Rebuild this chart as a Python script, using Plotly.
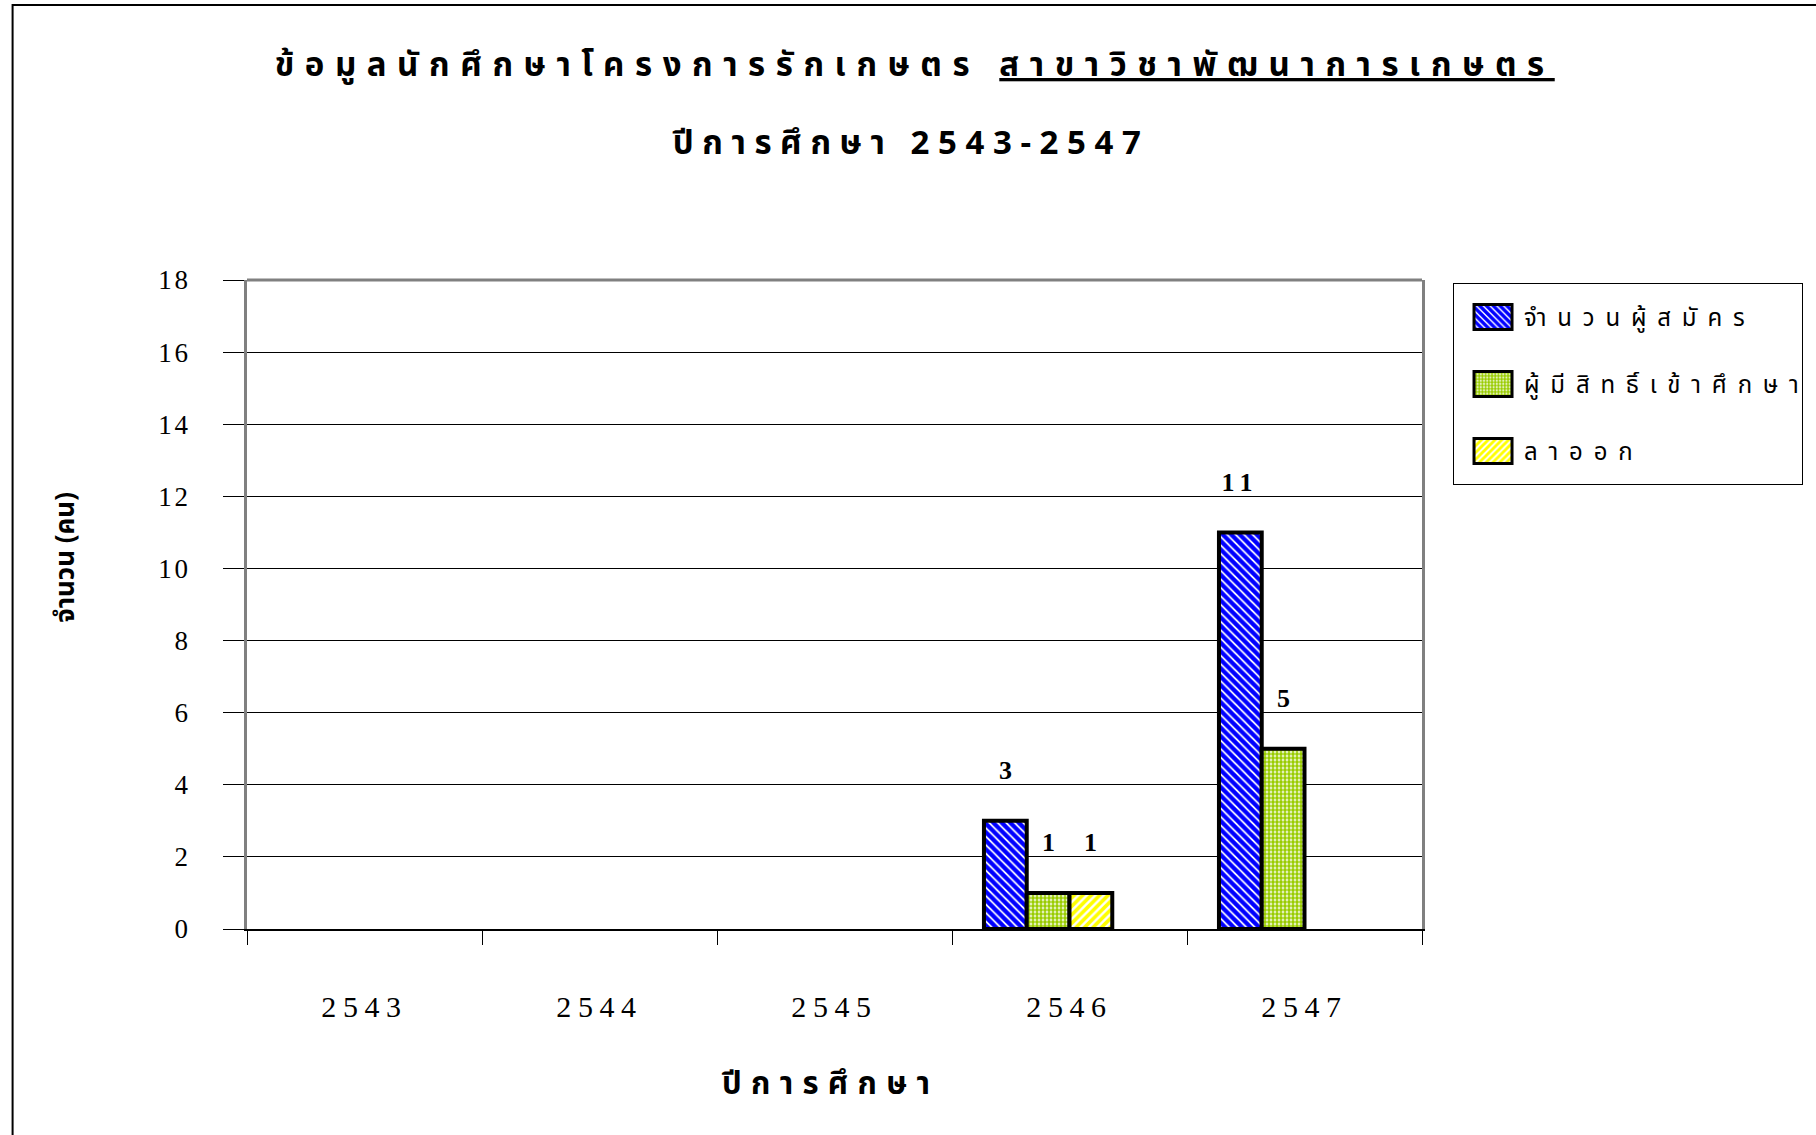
import plotly.graph_objects as go

years = ["2543", "2544", "2545", "2546", "2547"]
series_names = ["จำนวนผู้สมัคร", "ผู้มีสิทธิ์เข้าศึกษา", "ลาออก"]
applicants = [0, 0, 0, 3, 11]
eligible = [0, 0, 0, 1, 5]
dropped = [0, 0, 0, 1, 0]
y_ticks = [0, 2, 4, 6, 8, 10, 12, 14, 16, 18]

title_main = "ข้อมูลนักศึกษาโครงการรักเกษตร "
title_major = "สาขาวิชาพัฒนาการเกษตร"
title_years = "ปีการศึกษา 2543-2547"
x_title = "ปีการศึกษา"
y_title = "จำนวน (คน)"

THAI = "Noto Sans Thai, DejaVu Sans, Liberation Serif, serif"
SERIF = "Liberation Serif, Times New Roman, serif"

W = 0.182
offsets = [-2 * W, -W, 0.0]
patterns = [
    dict(shape="\\", fgcolor="#0000FF", bgcolor="white", size=6, solidity=0.7, fgopacity=1),
    dict(shape=".", fgcolor="#99CC00", bgcolor="white", size=4, solidity=0.7, fgopacity=1),
    dict(shape="/", fgcolor="#FFFF00", bgcolor="white", size=6, solidity=0.6, fgopacity=1),
]
values = [applicants, eligible, dropped]

fig = go.Figure()
for i, (name, vals) in enumerate(zip(series_names, values)):
    fig.add_trace(go.Bar(
        x=years, y=vals, name=name, width=W, offset=offsets[i],
        marker=dict(color="white", pattern=patterns[i],
                    line=dict(color="black", width=[4 if v else 0 for v in vals])),
    ))

annotations = []
for i, vals in enumerate(values):
    for j, v in enumerate(vals):
        if v:
            annotations.append(dict(
                x=j + offsets[i] + W / 2, y=v, xref="x", yref="y",
                text=f"<b>{v}</b>", showarrow=False, yshift=50,
                font=dict(family=SERIF, size=26, color="black")))

annotations += [
    dict(x=0.5685, y=1.330, xref="paper", yref="paper", showarrow=False,
         yanchor="middle",
         text=f"<b>{title_main}<u>{title_major}</u></b>",
         font=dict(family=THAI, size=33, color="black")),
    dict(x=0.565, y=1.2096, xref="paper", yref="paper", showarrow=False,
         yanchor="middle",
         text=f"<b>{title_years}</b>",
         font=dict(family=THAI, size=33, color="black")),
    dict(x=0.497, y=-0.239, xref="paper", yref="paper", showarrow=False,
         yanchor="middle",
         text=f"<b>{x_title}</b>",
         font=dict(family=THAI, size=31, color="black")),
    dict(x=-0.154, y=0.572, xref="paper", yref="paper", showarrow=False,
         xanchor="center", yanchor="middle",
         text=f"<b>{y_title}</b>", textangle=-90,
         font=dict(family=THAI, size=26, color="black")),
]

shapes = [
    dict(type="rect", xref="paper", yref="paper", x0=-0.1995, x1=1.40,
         y0=-0.40, y1=1.4237, line=dict(color="black", width=2), layer="below"),
    dict(type="line", xref="paper", yref="paper", x0=0, x1=1, y0=1, y1=1,
         line=dict(color="#808080", width=3), layer="above"),
]

fig.update_layout(
    width=1816, height=1135,
    margin=dict(l=247, r=394, t=280, b=206),
    paper_bgcolor="white", plot_bgcolor="white",
    barmode="group",
    showlegend=True,
    legend=dict(x=1.0264, y=0.9955, xanchor="left", yanchor="top",
                bordercolor="black", borderwidth=1, bgcolor="white",
                font=dict(family=THAI, size=24, color="black"),
                itemwidth=50),
    annotations=annotations,
    shapes=shapes,
)
fig.update_xaxes(
    type="category", showline=True, linecolor="black", linewidth=2,
    ticks="outside", tickson="boundaries", ticklen=14, tickcolor="black",
    tickwidth=1, showgrid=False, ticklabelstandoff=50,
    tickfont=dict(family=SERIF, size=30, color="black"),
    range=[-0.5, 4.5],
)
fig.update_yaxes(
    range=[0, 18], tickvals=y_ticks, showline=True, linecolor="#808080",
    linewidth=3, mirror=True, ticks="outside", ticklen=21, tickcolor="black",
    tickwidth=1, showgrid=True, gridcolor="black", gridwidth=1,
    zeroline=False, ticklabelstandoff=27,
    tickfont=dict(family=SERIF, size=27, color="black"),
)

post = """
(function(){
  document.body.style.margin='0';
  function sp(sel, v){document.querySelectorAll(sel).forEach(function(t){t.style.letterSpacing=v;});}
  document.querySelectorAll('.annotation').forEach(function(a){
    var t = a.querySelector('.annotation-text');
    if(!t) return;
    var txt = t.textContent;
    if(txt.indexOf('โครงการ')>=0){ t.style.letterSpacing='0.32em'; }
    else if(txt.indexOf('2543-2547')>=0){ t.style.letterSpacing='0.26em'; }
    else if(txt === 'ปีการศึกษา'){ t.style.letterSpacing='0.3em'; }
    else if(txt.length===2){ t.style.letterSpacing='0.25em'; }
  });
  sp('.xtick text', '0.22em');
  sp('.ytick text', '0.1em');
  sp('.legendtext', '0.45em');
  var lg = document.querySelector('.legend');
  if(lg){
    var LW = 349, LH = 201;
    var bg = lg.querySelector('rect.bg');
    if(bg){ bg.setAttribute('width', LW); bg.setAttribute('height', LH); }
    document.querySelectorAll('clipPath[id^="legend"] rect').forEach(function(r){
      r.setAttribute('width', LW); r.setAttribute('height', LH);
    });
    lg.querySelectorAll('.legendpoints path').forEach(function(p){
      p.setAttribute('d','M-10,-12.5H28V12.5H-10Z');
      p.style.stroke='black';
      p.style.strokeWidth='3px';
    });
    lg.querySelectorAll('.legendtext').forEach(function(t){
      t.setAttribute('x', 70);
    });
    lg.querySelectorAll('.groups').forEach(function(g){
      g.setAttribute('transform', 'translate(0,0)');
    });
    lg.querySelectorAll('.traces').forEach(function(g, i){
      var tr = g.getAttribute('transform') || '';
      var m = tr.match(/translate\\(([-\\d.]+)[ ,]+([-\\d.]+)\\)/);
      var x = m ? parseFloat(m[1]) : 0;
      g.setAttribute('transform', 'translate(' + x + ',' + (34 + 67*i) + ')');
    });
  }
})();
"""
fig.write_html("out.html", post_script=post, config={"displayModeBar": False})
